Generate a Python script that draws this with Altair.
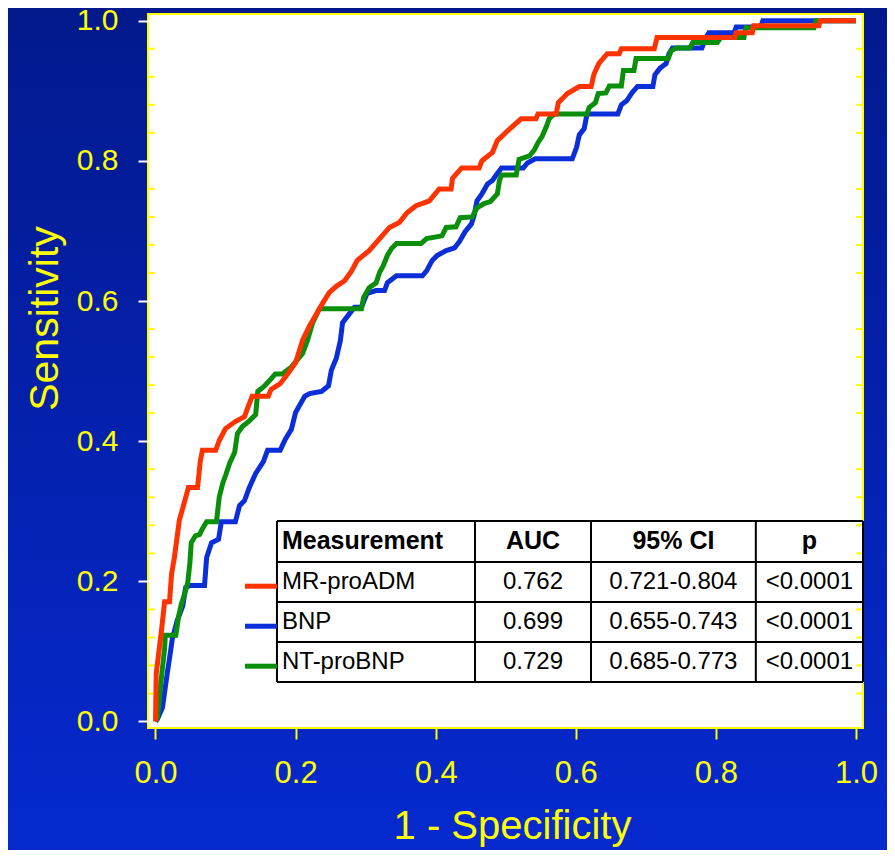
import altair as alt
import pandas as pd

# ---------------- data ----------------
mr_proadm = [(0, 0), (0.001, 0.068), (0.009, 0.134), (0.013, 0.171), (0.020, 0.171), (0.023, 0.211),
             (0.027, 0.234), (0.034, 0.287), (0.041, 0.312), (0.047, 0.334), (0.060, 0.334), (0.064, 0.372),
             (0.067, 0.387), (0.086, 0.387), (0.091, 0.401), (0.100, 0.418), (0.114, 0.428), (0.127, 0.435),
             (0.133, 0.451), (0.138, 0.464), (0.161, 0.464), (0.165, 0.474), (0.178, 0.482), (0.188, 0.495),
             (0.200, 0.512), (0.210, 0.544), (0.220, 0.565), (0.230, 0.582), (0.238, 0.596), (0.248, 0.612),
             (0.258, 0.621), (0.270, 0.629), (0.280, 0.643), (0.288, 0.658), (0.305, 0.672), (0.320, 0.689),
             (0.334, 0.705), (0.348, 0.712), (0.359, 0.726), (0.372, 0.736), (0.391, 0.743), (0.405, 0.760),
             (0.422, 0.760), (0.424, 0.775), (0.437, 0.790), (0.462, 0.790), (0.466, 0.800), (0.481, 0.812),
             (0.488, 0.829), (0.505, 0.845), (0.522, 0.860), (0.543, 0.860), (0.546, 0.867), (0.572, 0.867),
             (0.575, 0.883), (0.588, 0.896), (0.605, 0.906), (0.622, 0.906), (0.626, 0.924), (0.633, 0.939),
             (0.645, 0.953), (0.662, 0.953), (0.665, 0.960), (0.712, 0.960), (0.716, 0.976), (0.827, 0.976),
             (0.829, 0.983), (0.852, 0.983), (0.854, 0.993), (0.947, 0.993), (0.949, 1.0), (1.0, 1.0)]

bnp = [(0, 0), (0.003, 0.004), (0.010, 0.020), (0.014, 0.049), (0.017, 0.070), (0.021, 0.097),
       (0.024, 0.118), (0.031, 0.144), (0.039, 0.165), (0.043, 0.191), (0.049, 0.194), (0.070, 0.194),
       (0.073, 0.234), (0.080, 0.255), (0.090, 0.260), (0.094, 0.285), (0.114, 0.285), (0.120, 0.308),
       (0.127, 0.315), (0.134, 0.334), (0.143, 0.354), (0.154, 0.371), (0.160, 0.387), (0.178, 0.387),
       (0.185, 0.402), (0.194, 0.417), (0.200, 0.441), (0.213, 0.464), (0.220, 0.468), (0.237, 0.471),
       (0.247, 0.479), (0.251, 0.501), (0.258, 0.518), (0.264, 0.544), (0.267, 0.569), (0.277, 0.582),
       (0.284, 0.591), (0.294, 0.591), (0.302, 0.611), (0.315, 0.615), (0.327, 0.615), (0.331, 0.626),
       (0.344, 0.636), (0.381, 0.636), (0.387, 0.643), (0.395, 0.658), (0.402, 0.665), (0.415, 0.672),
       (0.427, 0.676), (0.434, 0.685), (0.442, 0.699), (0.451, 0.710), (0.455, 0.723), (0.459, 0.743),
       (0.466, 0.753), (0.474, 0.767), (0.481, 0.772), (0.488, 0.782), (0.494, 0.790), (0.525, 0.790),
       (0.531, 0.797), (0.542, 0.803), (0.595, 0.803), (0.601, 0.819), (0.605, 0.837), (0.612, 0.846),
       (0.616, 0.867), (0.660, 0.867), (0.665, 0.880), (0.673, 0.886), (0.680, 0.897), (0.688, 0.906),
       (0.710, 0.906), (0.713, 0.923), (0.720, 0.932), (0.729, 0.939), (0.733, 0.953), (0.738, 0.961),
       (0.780, 0.961), (0.786, 0.976), (0.790, 0.983), (0.826, 0.983), (0.829, 0.991), (0.864, 0.991),
       (0.867, 1.0), (1.0, 1.0)]

nt_probnp = [(0, 0), (0.003, 0.006), (0.007, 0.049), (0.010, 0.077), (0.013, 0.104), (0.014, 0.123),
             (0.029, 0.123), (0.033, 0.150), (0.037, 0.168), (0.041, 0.180), (0.046, 0.198), (0.049, 0.225),
             (0.051, 0.255), (0.057, 0.265), (0.063, 0.267), (0.067, 0.275), (0.073, 0.285), (0.087, 0.285),
             (0.091, 0.320), (0.096, 0.340), (0.100, 0.351), (0.106, 0.369), (0.113, 0.384), (0.117, 0.411),
             (0.124, 0.421), (0.134, 0.429), (0.143, 0.438), (0.146, 0.471), (0.155, 0.478), (0.165, 0.489),
             (0.171, 0.496), (0.181, 0.496), (0.194, 0.506), (0.210, 0.525), (0.217, 0.544), (0.224, 0.568),
             (0.234, 0.589), (0.294, 0.589), (0.297, 0.605), (0.305, 0.619), (0.315, 0.626), (0.320, 0.641),
             (0.325, 0.650), (0.331, 0.665), (0.337, 0.675), (0.344, 0.682), (0.379, 0.682), (0.387, 0.689),
             (0.409, 0.693), (0.415, 0.705), (0.429, 0.706), (0.435, 0.719), (0.452, 0.720), (0.459, 0.733),
             (0.469, 0.739), (0.478, 0.742), (0.488, 0.753), (0.491, 0.772), (0.494, 0.780), (0.515, 0.780),
             (0.519, 0.802), (0.534, 0.807), (0.541, 0.816), (0.546, 0.826), (0.552, 0.835), (0.558, 0.849),
             (0.562, 0.860), (0.569, 0.867), (0.616, 0.867), (0.619, 0.876), (0.628, 0.883), (0.632, 0.896),
             (0.643, 0.897), (0.648, 0.907), (0.665, 0.907), (0.668, 0.929), (0.683, 0.929), (0.686, 0.946),
             (0.732, 0.946), (0.736, 0.957), (0.743, 0.961), (0.763, 0.961), (0.767, 0.969), (0.802, 0.969),
             (0.807, 0.976), (0.840, 0.976), (0.843, 0.990), (0.940, 0.990), (0.943, 1.0), (1.0, 1.0)]

headers = ["Measurement", "AUC", "95% CI", "p"]
measurements = ["MR-proADM", "BNP", "NT-proBNP"]
auc_values = ["0.762", "0.699", "0.729"]
ci_values = ["0.721-0.804", "0.655-0.743", "0.685-0.773"]
p_values = ["<0.0001", "<0.0001", "<0.0001"]
series_colors = ["#FF3300", "#0B2EDB", "#0A8F0A"]

x_ticks = [0.0, 0.2, 0.4, 0.6, 0.8, 1.0]
y_ticks = [0.0, 0.2, 0.4, 0.6, 0.8, 1.0]
minor_ticks = [0.04, 0.08, 0.12, 0.16, 0.24, 0.28, 0.32, 0.36, 0.44, 0.48, 0.52, 0.56,
               0.64, 0.68, 0.72, 0.76, 0.84, 0.88, 0.92, 0.96]

# ---------------- layout ----------------
W, H = 715, 714
PAD = {"left": 140, "top": 6, "right": 24, "bottom": 122}
X_DOM = [-0.0107, 1.0100]
Y_DOM = [-0.0093, 1.0096]
col_edges = [0.1734, 0.4561, 0.6217, 0.857, 1.010]
row_edges = [0.2861, 0.2276, 0.1705, 0.1134, 0.0564]
legend_x = [0.1278, 0.1734]
YEL = "#FFFF00"
FONT = "Liberation Sans"

xscale = alt.Scale(domain=X_DOM, nice=False, zero=False)
yscale = alt.Scale(domain=Y_DOM, nice=False, zero=False)
xaxis = alt.Axis(values=x_ticks, format=".1f", labelFont=FONT, labelFontSize=31, labelColor=YEL,
                 tickColor=YEL, tickSize=11, tickWidth=2, domain=False, grid=False, labelPadding=19,
                 labelFlush=False, labelOverlap=False, title="1 - Specificity", titleFont=FONT,
                 titleFontSize=40, titleColor=YEL, titleFontWeight="normal", titleX=364, titleY=110,
                 titleAlign="center", titleBaseline="alphabetic", zindex=1)
yaxis = alt.Axis(values=y_ticks, format=".1f", labelFont=FONT, labelFontSize=30, labelColor=YEL,
                 tickColor="white", tickSize=10, tickWidth=2, domain=False, grid=False, labelPadding=20,
                 labelFlush=False, labelOverlap=False, title="Sensitivity", titleFont=FONT,
                 titleFontSize=41, titleColor=YEL, titleFontWeight="normal", titleAngle=270,
                 titleX=-91, titleY=304, titleAlign="center", titleBaseline="alphabetic", zindex=1)


def X(f):
    return alt.X(f, type="quantitative", scale=xscale, axis=xaxis)


def Y(f):
    return alt.Y(f, type="quantitative", scale=yscale, axis=yaxis)


one = alt.Data(values=[{"k": 1}])

bg = alt.Chart(one).mark_rect(
    fill={"gradient": "linear", "x1": 0, "y1": 0, "x2": 0, "y2": 1,
          "stops": [{"offset": 0, "color": "#02198C"}, {"offset": 1, "color": "#0629CF"}]}
).encode(x=alt.value(-PAD["left"]), x2=alt.value(W + PAD["right"]),
         y=alt.value(-PAD["top"]), y2=alt.value(H + PAD["bottom"]))

plotbg = alt.Chart(one).mark_rect(fill="white", stroke=YEL, strokeWidth=2).encode(
    x=alt.value(0), x2=alt.value(W), y=alt.value(0), y2=alt.value(H))

minor_df = pd.DataFrame({"v": minor_ticks})
minor_left = alt.Chart(minor_df).mark_rule(color=YEL, strokeWidth=2).encode(
    y=Y("v"), x=alt.value(0), x2=alt.value(7))
minor_right = alt.Chart(minor_df).mark_rule(color=YEL, strokeWidth=2).encode(
    y=Y("v"), x=alt.value(W - 7), x2=alt.value(W))


def curve(points, color):
    df = pd.DataFrame({"x": [p[0] for p in points], "y": [p[1] for p in points],
                       "i": list(range(len(points)))})
    return alt.Chart(df).mark_line(color=color, strokeWidth=5, strokeJoin="miter").encode(
        x=X("x"), y=Y("y"), order=alt.Order("i:Q"))


c_red = curve(mr_proadm, series_colors[0])
c_blue = curve(bnp, series_colors[1])
c_green = curve(nt_probnp, series_colors[2])

# table grid
h_df = pd.DataFrame({"y": row_edges, "x": col_edges[0], "x2": col_edges[-1]})
v_df = pd.DataFrame({"x": col_edges, "y": row_edges[0], "y2": row_edges[-1]})
h_lines = alt.Chart(h_df).mark_rule(color="black", strokeWidth=2).encode(
    y=Y("y"), x=X("x"), x2="x2:Q")
v_lines = alt.Chart(v_df).mark_rule(color="black", strokeWidth=2).encode(
    x=X("x"), y=Y("y"), y2="y2:Q")

mids = [(row_edges[i] + row_edges[i + 1]) / 2 for i in range(4)]
cmids = [(col_edges[i] + col_edges[i + 1]) / 2 for i in range(4)]

leg_df = pd.DataFrame({"x": legend_x[0], "x2": legend_x[1],
                       "y": [m - 0.006 for m in mids[1:]], "s": measurements})
leg_lines = alt.Chart(leg_df).mark_rule(strokeWidth=5).encode(
    x=X("x"), x2="x2:Q", y=Y("y"),
    color=alt.Color("s:N", scale=alt.Scale(domain=measurements, range=series_colors), legend=None))

head_left = pd.DataFrame({"x": [col_edges[0]], "y": [mids[0]], "t": [headers[0]]})
head_center = pd.DataFrame({"x": cmids[1:], "y": mids[0], "t": headers[1:]})
body_left = pd.DataFrame({"x": col_edges[0], "y": mids[1:], "t": measurements})
body_center = pd.DataFrame({
    "x": [cmids[1]] * 3 + [cmids[2]] * 3 + [cmids[3]] * 3,
    "y": mids[1:] * 3,
    "t": auc_values + ci_values + p_values})

t1 = alt.Chart(head_left).mark_text(align="left", dx=5, baseline="middle", font=FONT, fontSize=25,
                                    fontWeight="bold", color="black").encode(x=X("x"), y=Y("y"), text="t:N")
t2 = alt.Chart(head_center).mark_text(align="center", baseline="middle", font=FONT, fontSize=25,
                                      fontWeight="bold", color="black").encode(x=X("x"), y=Y("y"), text="t:N")
t3 = alt.Chart(body_left).mark_text(align="left", dx=5, baseline="middle", font=FONT, fontSize=24,
                                    color="black").encode(x=X("x"), y=Y("y"), text="t:N")
t4 = alt.Chart(body_center).mark_text(align="center", baseline="middle", font=FONT, fontSize=24,
                                      color="black").encode(x=X("x"), y=Y("y"), text="t:N")

chart = alt.layer(
    bg, plotbg, minor_left, minor_right, c_blue, c_green, c_red,
    h_lines, v_lines, leg_lines, t1, t2, t3, t4
).properties(
    width=W, height=H, padding=PAD, autosize=alt.AutoSizeParams(type="none"),
    background="#0629CF"
).configure_view(stroke=None)

chart.save("out.html", embed_options={"renderer": "svg", "actions": False})
